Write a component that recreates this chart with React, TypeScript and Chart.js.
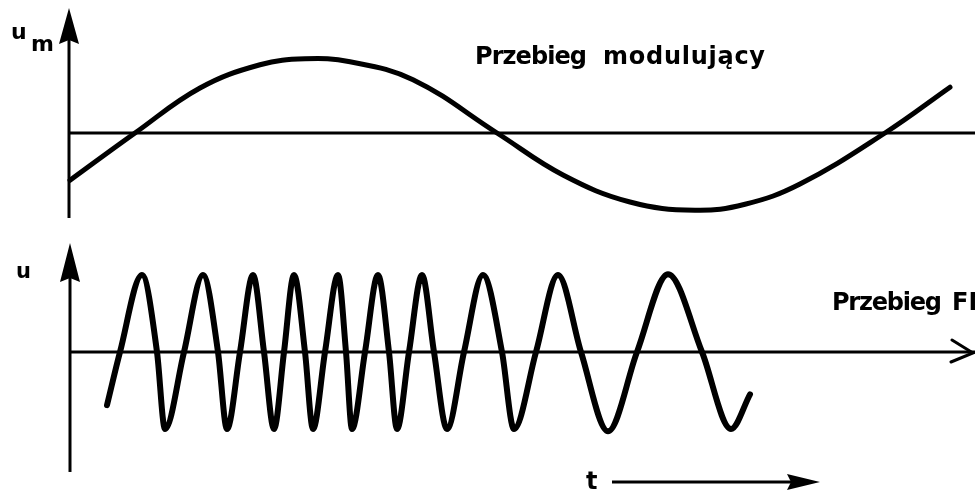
import React, { useEffect, useRef } from "react";
import { Chart, registerables } from "chart.js";
Chart.register(...registerables);

// time axis (arbitrary units); t = 0 at the vertical axes
const T_MIN = -6.9;
const T_MAX = 90.6;

// modulating waveform u_m(t)
const modT = [0.1, 6.6, 13.1, 19.1, 23.6, 28.1, 34.4, 42.8, 49.4, 56.1, 62.6, 67.6, 73.1, 81.6, 88.1];
const modU = [-0.63, 0, 0.6, 0.91, 0.99, 0.95, 0.71, 0, -0.56, -0.92, -1.03, -0.95, -0.68, 0, 0.61];

// FM waveform u(t): start, zero crossings, peaks and troughs
const fmT = [3.8, 5.1, 7.3, 8.8, 9.6, 11.5, 13.4, 14.9, 15.8, 17.1, 18.4, 19.5, 20.5, 21.5, 22.5, 23.6, 24.4, 25.6, 26.9, 27.7, 28.3, 29.6, 30.9, 32.0, 32.8, 34.0, 35.3, 36.5, 37.8, 39.5, 41.4, 43.3, 44.5, 46.7, 48.9, 51.2, 53.9, 56.8, 59.9, 63.3, 66.2, 68.1];
const fmU = [-0.69, 0, 1, 0, -1, 0, 1, 0, -1, 0, 1, 0, -1, 0, 1, 0, -1, 0, 1, 0, -1, 0, 1, 0, -1, 0, 1, 0, -1, 0, 1, 0, -1, 0, 1, 0, -1.03, 0, 1.01, 0, -1, -0.55];

const TITLE_TOP = ["Przebieg", "modulujący"];
const TITLE_BOTTOM = ["Przebieg", "FM"];
const LABEL_UM = ["u", "m"];
const LABEL_U = "u";
const LABEL_T = "t";

const FONT = '"DejaVu Sans", "Noto Sans", sans-serif';
const INK = "#000";

function fitText(ctx: CanvasRenderingContext2D, text: string, x: number, y: number, width: number) {
  const w = ctx.measureText(text).width;
  const anyCtx = ctx as any;
  if ("letterSpacing" in anyCtx && text.length > 1) {
    anyCtx.letterSpacing = `${(width - w) / (text.length - 1)}px`;
    ctx.fillText(text, x, y);
    anyCtx.letterSpacing = "0px";
  } else {
    ctx.save();
    ctx.translate(x, y);
    ctx.scale(width / w, 1);
    ctx.fillText(text, 0, 0);
    ctx.restore();
  }
}

function arrowUp(ctx: CanvasRenderingContext2D, x: number, tip: number, base: number, half: number) {
  ctx.beginPath();
  ctx.moveTo(x, tip);
  ctx.lineTo(x + half, base);
  ctx.lineTo(x, base - 4);
  ctx.lineTo(x - half, base);
  ctx.closePath();
  ctx.fill();
}

const topDecor = {
  id: "topDecor",
  beforeDatasetsDraw(chart: any) {
    const { ctx } = chart;
    const x = chart.scales.x;
    const y = chart.scales.y;
    const x0 = x.getPixelForValue(0);
    const y0 = y.getPixelForValue(0);
    ctx.save();
    ctx.strokeStyle = INK;
    ctx.fillStyle = INK;
    ctx.lineWidth = 3;
    ctx.lineCap = "butt";
    // vertical axis
    ctx.beginPath();
    ctx.moveTo(x0, y.getPixelForValue(1.3));
    ctx.lineTo(x0, y.getPixelForValue(-1.133));
    ctx.stroke();
    arrowUp(ctx, x0, y.getPixelForValue(1.667), y.getPixelForValue(1.187), 10);
    // zero line
    ctx.beginPath();
    ctx.moveTo(x0, y0);
    ctx.lineTo(chart.width, y0);
    ctx.stroke();
    // labels
    ctx.textBaseline = "alphabetic";
    ctx.font = `bold 22px ${FONT}`;
    ctx.fillText(LABEL_UM[0], 11, 39);
    ctx.font = `bold 22px ${FONT}`;
    ctx.fillText(LABEL_UM[1], 31, 51);
    ctx.font = `bold 24px ${FONT}`;
    fitText(ctx, TITLE_TOP[0], 475, 64, 112);
    fitText(ctx, TITLE_TOP[1], 603, 64, 162);
    ctx.restore();
  },
};

const bottomDecor = {
  id: "bottomDecor",
  beforeDatasetsDraw(chart: any) {
    const { ctx } = chart;
    const x = chart.scales.x;
    const y = chart.scales.y;
    const x0 = x.getPixelForValue(0) + 1;
    const y0 = y.getPixelForValue(0);
    const right = chart.width;
    ctx.save();
    ctx.strokeStyle = INK;
    ctx.fillStyle = INK;
    ctx.lineWidth = 3;
    // vertical axis
    ctx.beginPath();
    ctx.moveTo(x0, y.getPixelForValue(1.0));
    ctx.lineTo(x0, y.getPixelForValue(-1.558));
    ctx.stroke();
    arrowUp(ctx, x0, y.getPixelForValue(1.416), y.getPixelForValue(0.909), 10);
    // zero line with open arrow
    ctx.beginPath();
    ctx.moveTo(x0, y0);
    ctx.lineTo(right, y0);
    ctx.stroke();
    ctx.lineCap = "round";
    ctx.beginPath();
    ctx.moveTo(right - 23, y0 - 12);
    ctx.lineTo(right - 2, y0 + 1);
    ctx.lineTo(right - 24, y0 + 10);
    ctx.stroke();
    // time arrow
    const ya = y.getPixelForValue(-1.688);
    ctx.lineCap = "butt";
    ctx.beginPath();
    ctx.moveTo(x.getPixelForValue(54.3), ya);
    ctx.lineTo(x.getPixelForValue(72.2), ya);
    ctx.stroke();
    const hb = x.getPixelForValue(71.8);
    const ht = x.getPixelForValue(75.1);
    ctx.beginPath();
    ctx.moveTo(ht, ya);
    ctx.lineTo(hb, ya - 8);
    ctx.lineTo(hb + 4, ya);
    ctx.lineTo(hb, ya + 8);
    ctx.closePath();
    ctx.fill();
    // labels
    ctx.textBaseline = "alphabetic";
    ctx.font = `bold 21px ${FONT}`;
    ctx.fillText(LABEL_U, 16, 48);
    ctx.font = `bold 24px ${FONT}`;
    ctx.fillText(LABEL_T, 586, 259);
    ctx.font = `bold 24px ${FONT}`;
    fitText(ctx, TITLE_BOTTOM[0], 832, 80, 110);
    ctx.fillText(TITLE_BOTTOM[1], 952, 80);
    ctx.restore();
  },
};

function Panel(props: {
  width: number;
  height: number;
  top: number;
  yMin: number;
  yMax: number;
  xs: number[];
  ys: number[];
  lineWidth: number;
  mode: string;
  plugin: any;
}) {
  const ref = useRef<HTMLCanvasElement | null>(null);
  useEffect(() => {
    if (!ref.current) return;
    const chart = new Chart(ref.current, {
      type: "line",
      data: {
        datasets: [
          {
            data: props.xs.map((t, i) => ({ x: t, y: props.ys[i] })),
            borderColor: INK,
            borderWidth: props.lineWidth,
            borderCapStyle: "round",
            borderJoinStyle: "round",
            cubicInterpolationMode: props.mode,
            tension: 0.4,
            pointRadius: 0,
            fill: false,
            clip: false,
          } as any,
        ],
      },
      options: {
        responsive: false,
        animation: false,
        devicePixelRatio: 1,
        events: [],
        layout: { padding: 0 },
        plugins: {
          legend: { display: false },
          tooltip: { enabled: false },
          title: { display: false },
        },
        scales: {
          x: { type: "linear", min: T_MIN, max: T_MAX, display: false },
          y: { type: "linear", min: props.yMin, max: props.yMax, display: false },
        },
      },
      plugins: [props.plugin],
    });
    return () => chart.destroy();
  }, []);
  return (
    <canvas
      ref={ref}
      width={props.width}
      height={props.height}
      style={{ position: "absolute", left: 0, top: props.top, width: props.width, height: props.height, display: "block" }}
    />
  );
}

export default function App() {
  return (
    <div style={{ position: "fixed", left: 0, top: 0, width: 975, height: 493, background: "#fff", overflow: "hidden" }}>
      <Panel width={975} height={230} top={0} yMin={-97 / 75} yMax={133 / 75} xs={modT} ys={modU} lineWidth={5} mode="default" plugin={topDecor} />
      <Panel width={975} height={263} top={230} yMin={-141 / 77} yMax={122 / 77} xs={fmT} ys={fmU} lineWidth={6} mode="monotone" plugin={bottomDecor} />
    </div>
  );
}
